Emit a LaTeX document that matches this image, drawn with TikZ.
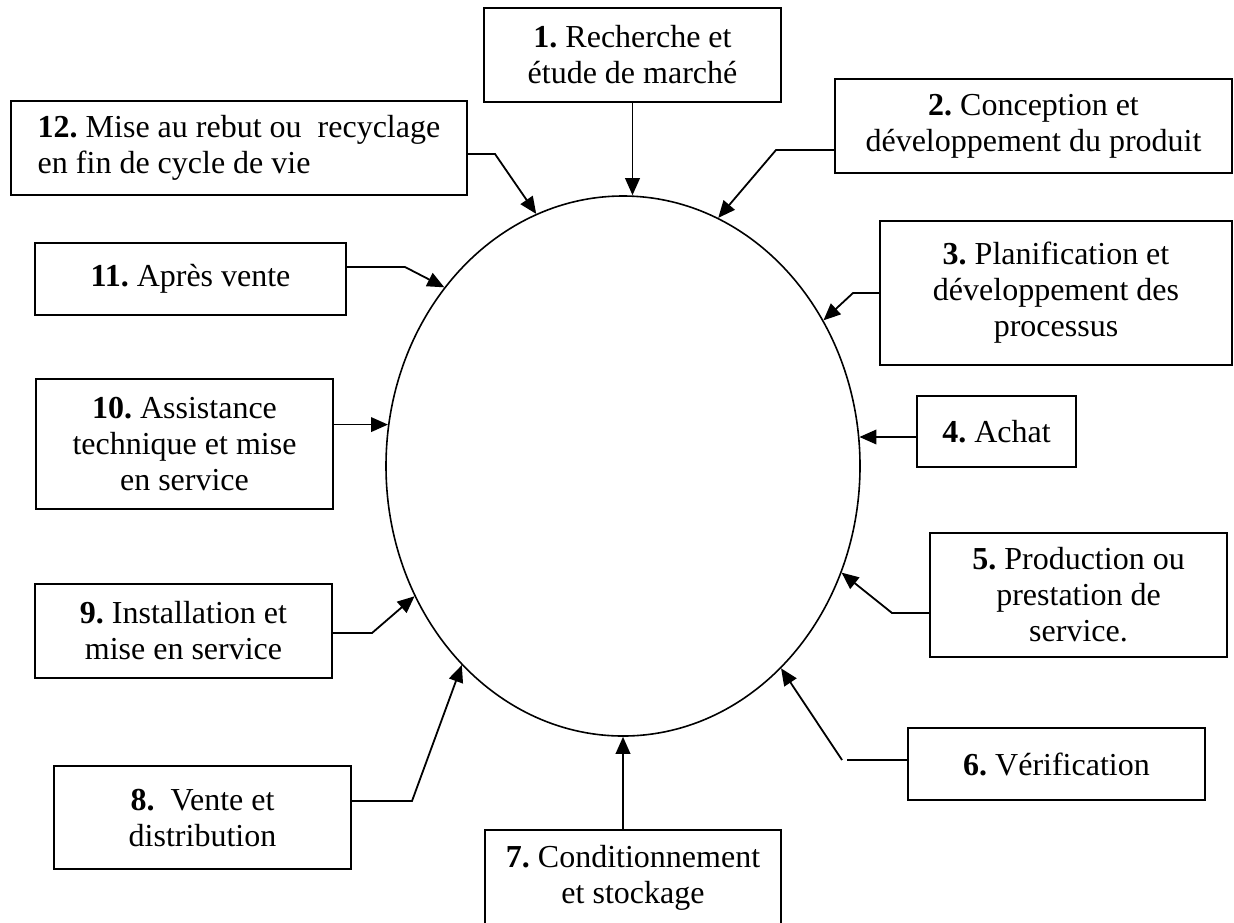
\documentclass[tikz,border=0pt]{standalone}
\usepackage{fontspec}
\setmainfont{Liberation Serif}
\usepackage{tikz}
\usetikzlibrary{shapes.geometric,arrows.meta,positioning}
\frenchspacing
\tikzset{%
  stageBox/.style={%
    rectangle,
    draw=black,
    line width=0.9pt,
    fill=white,
    minimum width=148.5pt,
    minimum height=47pt,
    inner sep=0pt,
    align=center,
    font=\fontsize{16pt}{18pt}\selectfont
  },
  stageArrow/.style={%
    -{Triangle[length=8.5pt,width=7.3pt]},
    line width=0.9pt,
    color=black
  },
  plainLine/.style={%
    line width=0.9pt,
    color=black
  },
  cycleShape/.style={%
    ellipse,
    draw=black,
    line width=0.8pt,
    minimum width=237pt,
    minimum height=270pt,
    inner sep=0pt
  }
}

\begin{document}
\begin{tikzpicture}[x=0.5pt,y=-0.5pt]
  \useasboundingbox (0,0) rectangle (1234,922);
  \clip (0,0) rectangle (1234,922);

  \node[cycleShape] (cycle) at (623,466) {};

  \node[stageBox] (s1) at (632.5,55) {\textbf{1.} Recherche et\\étude de marché};
  \node[stageBox, minimum width=198.5pt] (s2) at (1033.5,126) {\textbf{2.} Conception et\\développement du produit};
  \node[stageBox, minimum width=176pt, minimum height=72pt] (s3) at (1056,293) {\textbf{3.} Planification et\\développement des\\processus};
  \node[stageBox, minimum width=79.5pt, minimum height=35.5pt] (s4) at (996.5,431.5) {\textbf{4.} Achat};
  \node[stageBox, minimum height=62pt] (s5) at (1078.5,595) {\textbf{5.} Production ou\\prestation de\\service.};
  \node[stageBox, minimum height=36pt] (s6) at (1056.5,764) {\textbf{6.} Vérification};
  \node[stageBox, minimum width=148pt, minimum height=48pt] (s7) at (633,878) {\textbf{7.} Conditionnement\\et stockage};
  \node[stageBox, minimum height=51.5pt] (s8) at (202.5,817.5) {\textbf{8.}\ \ Vente et\\distribution};
  \node[stageBox] (s9) at (183.5,631) {\textbf{9.} Installation et\\mise en service};
  \node[stageBox, minimum height=65pt] (s10) at (184.5,444) {\textbf{10.} Assistance\\technique et mise\\en service};
  \node[stageBox, minimum width=155.5pt, minimum height=36pt] (s11) at (190.5,279) {\textbf{11.} Après vente};
  \node[stageBox, minimum width=228pt, align=left] (s12) at (239,148) {\textbf{12.} Mise au rebut ou\ \ recyclage\\en fin de cycle de vie};

  % arrows towards the cycle
  \draw[stageArrow] (s1.south) -- (s1.south |- cycle.north);
  \draw[stageArrow] (s2.west |- 0,150) -- (776,150) -- (cycle.69);
  \draw[stageArrow] (s3.west) -- (853,293) -- (cycle.36.8);
  \draw[stageArrow] (s4.west |- cycle.7.1) -- (cycle.7.1);
  \draw[stageArrow] (s5.west |- 0,613) -- (892,613) -- (cycle.334.6);
  \coordinate (v6) at (842,760);
  \draw[plainLine] (s6.west |- v6) -- ([xshift=2.5pt]v6);
  \draw[stageArrow] (v6) -- (cycle.308.9);
  \draw[stageArrow] (s7.north -| cycle.south) -- (cycle.south);
  \draw[stageArrow] (s8.east |- 0,801) -- (412,801) -- (cycle.231.7);
  \draw[stageArrow] (s9.east |- 0,633) -- (372,633) -- (cycle.212);
  \draw[stageArrow] (s10.east |- cycle.170.5) -- (cycle.170.5);
  \draw[stageArrow] (s11.east |- 0,267) -- (405,267) -- (cycle.135.6);
  \draw[stageArrow] (s12.east |- 0,154) -- (495,154) -- (cycle.109.5);
\end{tikzpicture}
\end{document}
